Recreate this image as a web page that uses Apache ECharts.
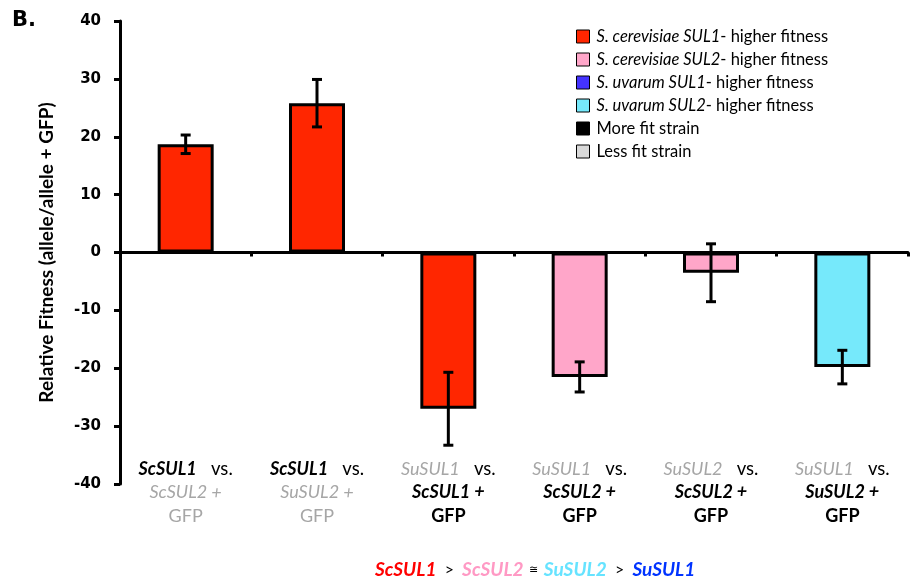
<!DOCTYPE html>
<html>
<head>
<meta charset="utf-8">
<script src="https://cdn.jsdelivr.net/npm/echarts@6/dist/echarts.min.js"></script>
<style>html,body{margin:0;padding:0;background:#fff}#c{width:910px;height:580px}</style>
</head>
<body>
<div id="c"></div>
<script>
// ---- data ----
var categories = ['c1','c2','c3','c4','c5','c6'];
var firstAllele = ['ScSUL1','ScSUL1','SuSUL1','SuSUL1','SuSUL2','SuSUL1'];
var secondAllele = ['ScSUL2','SuSUL2','ScSUL1','ScSUL2','ScSUL2','SuSUL2'];
var firstIsFitter = [true, true, false, false, false, false];
var fitness = [18.7, 25.8, -27.0, -21.5, -3.5, -19.8];
var errors = [1.6, 4.1, 6.3, 2.6, 5.0, 2.9];
var barColorKeys = ['scSUL1','scSUL1','scSUL1','scSUL2','scSUL2','suSUL2'];
var yTicks = [-40,-30,-20,-10,0,10,20,30,40];

var palette = {scSUL1:'#ff2600', scSUL2:'#ffa6c9', suSUL1:'#4433ff', suSUL2:'#76e9fb', more:'#000000', less:'#d9d9d9'};
var legendNames = ['S. cerevisiae SUL1- higher fitness','S. cerevisiae SUL2- higher fitness','S. uvarum SUL1- higher fitness','S. uvarum SUL2- higher fitness','More fit strain','Less fit strain'];
var legendItalic = ['S. cerevisiae SUL1','S. cerevisiae SUL2','S. uvarum SUL1','S. uvarum SUL2','',''];
var legendPlain = ['- higher fitness','- higher fitness','- higher fitness','- higher fitness','More fit strain','Less fit strain'];
var legendColorKeys = ['scSUL1','scSUL2','suSUL1','suSUL2','more','less'];

var chart = echarts.init(document.getElementById('c'), null, {renderer:'canvas'});
var fontCal = 'Lato, "Open Sans", sans-serif';

var legendSeries = legendNames.map(function(n,i){
  return {type:'scatter', name:n, data:[], itemStyle:{color:palette[legendColorKeys[i]], opacity:1, borderColor:'#000', borderWidth:1}};
});

var option = {
  animation:false,
  backgroundColor:'#fff',
  grid:{left:120, right:2, top:21, bottom:96, containLabel:false, outerBoundsMode:'none'},
  legend:{
    data:legendNames, orient:'vertical', left:576, top:28, padding:0,
    itemWidth:13, itemHeight:13, itemGap:6, icon:'rect',
    itemStyle:{borderColor:'#000', borderWidth:1, opacity:1},
    formatter:function(name){
      var i = legendNames.indexOf(name);
      return (legendItalic[i] ? '{it|'+legendItalic[i]+'}' : '') + '{n|'+legendPlain[i]+'}';
    },
    textStyle:{
      color:'#000', fontFamily:fontCal, fontSize:16.5, padding:[0,0,0,2], lineHeight:16,
      rich:{ it:{fontStyle:'italic', fontSize:16.5, fontFamily:fontCal, color:'#000', lineHeight:16},
             n:{fontSize:16.5, fontFamily:fontCal, color:'#000', lineHeight:16} }
    }
  },
  xAxis:{
    type:'category', data:categories,
    axisLine:{onZero:true, lineStyle:{color:'#000', width:3}},
    axisTick:{show:true, inside:false, length:4, lineStyle:{color:'#000', width:3}},
    axisLabel:{
      margin:-27, interval:0,
      formatter:function(v, idx){
        var f = firstIsFitter[idx];
        var l1 = (f ? '{bi|'+firstAllele[idx]+'}' : '{gi|'+firstAllele[idx]+'}') + '{vs|   vs.}';
        var l2 = f ? '{gi|'+secondAllele[idx]+' +}' : '{bi|'+secondAllele[idx]+' +}';
        var l3 = f ? '{g|GFP}' : '{b|GFP}';
        return l1 + '\n' + l2 + '\n' + l3;
      },
      rich:{
        bi:{fontFamily:fontCal, fontSize:18, fontWeight:'bold', fontStyle:'italic', color:'#000', lineHeight:23.5},
        gi:{fontFamily:fontCal, fontSize:18, fontStyle:'italic', color:'#a6a6a6', lineHeight:23.5},
        vs:{fontFamily:fontCal, fontSize:18.5, color:'#000', lineHeight:23.5},
        g:{fontFamily:fontCal, fontSize:18, color:'#a6a6a6', lineHeight:23.5},
        b:{fontFamily:fontCal, fontSize:18, fontWeight:'bold', color:'#000', lineHeight:23.5}
      }
    }
  },
  yAxis:{
    type:'value', min:-40, max:40, interval:10,
    name:'Relative Fitness (allele/allele + GFP)', nameLocation:'middle', nameGap:64, nameRotate:90,
    nameTextStyle:{fontFamily:fontCal, fontSize:19, fontWeight:'bold', color:'#000'},
    axisLine:{show:true, lineStyle:{color:'#000', width:3}},
    axisTick:{show:true, length:6, lineStyle:{color:'#000', width:3}},
    splitLine:{show:false},
    axisLabel:{margin:19, color:'#000', fontFamily:'"DejaVu Sans", Verdana, sans-serif', fontSize:15, fontWeight:'bold',
      formatter:function(v){ return yTicks.indexOf(v) >= 0 ? String(v) : ''; }}
  },
  series:[
    {
      type:'bar', name:'fitness', barWidth:56, legendHoverLink:false,
      data:fitness.map(function(v,i){ return {value:v, itemStyle:{color:palette[barColorKeys[i]]}}; }),
      itemStyle:{borderColor:'#000', borderWidth:3},
      z:2
    },
    {
      type:'custom', name:'err',
      data:fitness.map(function(v,i){ return [i, v - errors[i], v + errors[i]]; }),
      encode:{x:0, y:[1,2]},
      renderItem:function(params, api){
        var x = api.value(0);
        var lo = api.coord([x, api.value(1)]);
        var hi = api.coord([x, api.value(2)]);
        var hw = 5;
        var st = {stroke:'#000', lineWidth:3};
        return {type:'group', children:[
          {type:'line', shape:{x1:lo[0], y1:lo[1], x2:hi[0], y2:hi[1]}, style:st},
          {type:'line', shape:{x1:lo[0]-hw, y1:lo[1], x2:lo[0]+hw, y2:lo[1]}, style:st},
          {type:'line', shape:{x1:hi[0]-hw, y1:hi[1], x2:hi[0]+hw, y2:hi[1]}, style:st}
        ]};
      },
      z:5
    }
  ].concat(legendSeries),
  graphic:[
    {type:'text', left:12, top:10, style:{text:'B.', fontFamily:'"DejaVu Sans", Verdana, sans-serif', fontSize:21, fontWeight:'bold', fill:'#000'}},
    {type:'text', left:375, top:560,
      style:{
        text:'{r|ScSUL1}{k|  >  }{p|ScSUL2}{s|  \u2245  }{c|SuSUL2}{k|  >  }{u|SuSUL1}',
        rich:{
          r:{fontFamily:fontCal, fontSize:19, fontWeight:'bold', fontStyle:'italic', fill:'#ff0000'},
          p:{fontFamily:fontCal, fontSize:19, fontWeight:'bold', fontStyle:'italic', fill:'#ff99c4'},
          c:{fontFamily:fontCal, fontSize:19, fontWeight:'bold', fontStyle:'italic', fill:'#66e3ff'},
          u:{fontFamily:fontCal, fontSize:19, fontWeight:'bold', fontStyle:'italic', fill:'#0033ff'},
          k:{fontFamily:fontCal, fill:'#000', fontSize:16},
          s:{fontFamily:fontCal, fontSize:11, fill:'#000'}
        }
      }
    }
  ]
};
chart.setOption(option);
</script>
</body>
</html>
